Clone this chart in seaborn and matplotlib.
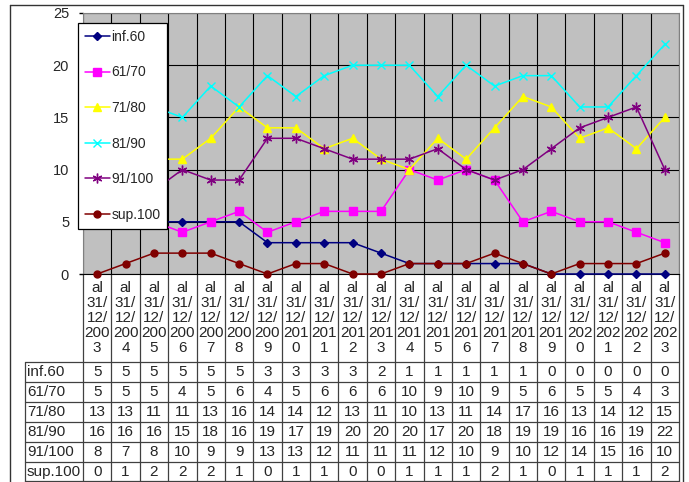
import numpy as np
import matplotlib
matplotlib.use("Agg")
import matplotlib.pyplot as plt
import seaborn as sns

dates = ["al 31/12/2003", "al 31/12/2004", "al 31/12/2005", "al 31/12/2006",
         "al 31/12/2007", "al 31/12/2008", "al 31/12/2009", "al 31/12/2010",
         "al 31/12/2011", "al 31/12/2012", "al 31/12/2013", "al 31/12/2014",
         "al 31/12/2015", "al 31/12/2016", "al 31/12/2017", "al 31/12/2018",
         "al 31/12/2019", "al 31/12/2020", "al 31/12/2021", "al 31/12/2022",
         "al 31/12/2023"]
series_names = ["inf.60", "61/70", "71/80", "81/90", "91/100", "sup.100"]
inf60 = [5, 5, 5, 5, 5, 5, 3, 3, 3, 3, 2, 1, 1, 1, 1, 1, 0, 0, 0, 0, 0]
r61_70 = [5, 5, 5, 4, 5, 6, 4, 5, 6, 6, 6, 10, 9, 10, 9, 5, 6, 5, 5, 4, 3]
r71_80 = [13, 13, 11, 11, 13, 16, 14, 14, 12, 13, 11, 10, 13, 11, 14, 17, 16, 13, 14, 12, 15]
r81_90 = [16, 16, 16, 15, 18, 16, 19, 17, 19, 20, 20, 20, 17, 20, 18, 19, 19, 16, 16, 19, 22]
r91_100 = [8, 7, 8, 10, 9, 9, 13, 13, 12, 11, 11, 11, 12, 10, 9, 10, 12, 14, 15, 16, 10]
sup100 = [0, 1, 2, 2, 2, 1, 0, 1, 1, 0, 0, 1, 1, 1, 2, 1, 0, 1, 1, 1, 2]

all_series = [inf60, r61_70, r71_80, r81_90, r91_100, sup100]
colors = ["#000080", "#FF00FF", "#FFFF00", "#00FFFF", "#800080", "#800000"]
markers = ["D", "s", "^", "x", (6, 2, 0), "o"]
msizes = [4, 5.5, 6, 6, 7, 5]

sns.set_style("white")
plt.rcParams["font.family"] = ["Liberation Sans", "DejaVu Sans"]

W, H = 689, 482
fig = plt.figure(figsize=(W / 100, H / 100), dpi=100)

# plot area in pixels
left, right, top, bottom = 83, 679, 13, 274
ax = fig.add_axes([left / W, (H - bottom) / H, (right - left) / W, (bottom - top) / H])
ax.set_facecolor("#C0C0C0")

x = np.arange(len(dates))
for name, vals, c, m, ms in zip(series_names, all_series, colors, markers, msizes):
    sns.lineplot(x=x, y=vals, ax=ax, color=c, marker=m, markersize=ms,
                 markeredgecolor=c, markeredgewidth=1, linewidth=1.1,
                 label=name, clip_on=False, zorder=3)

ax.set_xlim(-0.5, len(dates) - 0.5)
ax.set_ylim(0, 25)
ax.set_yticks([0, 5, 10, 15, 20, 25])
ax.set_xticks(np.arange(-0.5, len(dates), 1))
ax.set_xticklabels([])
ax.tick_params(axis="x", length=0)
ax.tick_params(axis="y", length=3, width=1, color="black", pad=7, labelsize=10.5, left=True)
ax.grid(True, color="black", linewidth=0.8)
ax.set_axisbelow(True)
for s in ["top", "right", "left"]:
    ax.spines[s].set_color("#808080")
ax.spines["bottom"].set_color("black")
ax.set_xlabel("")
ax.set_ylabel("")

leg = ax.legend(loc="upper left", bbox_to_anchor=(78 / W, 1 - 23 / H),
                bbox_transform=fig.transFigure, frameon=True, fancybox=False,
                framealpha=1, fontsize=10, labelspacing=1.55, handlelength=1.8,
                handletextpad=0.1, borderpad=0.5, borderaxespad=0)
leg.get_frame().set_edgecolor("black")
leg.get_frame().set_facecolor("white")
leg.get_frame().set_linewidth(0.9)
leg.set_zorder(10)

# data table drawn in pixel coordinates
tab = fig.add_axes([0, 0, 1, 1], zorder=-1)
tab.set_xlim(0, W)
tab.set_ylim(H, 0)
tab.axis("off")

n = len(dates)
cw = (right - left) / n
row_top, row_h, lab_left = 362, 20, 25
for j in range(n + 1):
    tab.plot([left + j * cw] * 2, [bottom, H], color="#404040", lw=0.9)
tab.plot([lab_left, lab_left], [row_top, H], color="#404040", lw=0.9)
for k in range(len(series_names) + 1):
    yy = min(row_top + k * row_h, H - 1)
    tab.plot([lab_left, right], [yy, yy], color="#404040", lw=0.9)

for j, d in enumerate(dates):
    a, b = d.split(" ")
    yr = b.split("/")[2]
    lab = f"{a}\n31/\n12/\n{yr[:3]}\n{yr[3:]}"
    tab.text(left + (j + 0.5) * cw, 318, lab, ha="center", va="center",
             fontsize=11, linespacing=1.08)

for k, (name, vals) in enumerate(zip(series_names, all_series)):
    yc = row_top + (k + 0.5) * row_h
    tab.text(lab_left + 2, yc, name, ha="left", va="center", fontsize=11)
    for j, v in enumerate(vals):
        tab.text(left + (j + 0.5) * cw, yc, str(v), ha="center", va="center", fontsize=11)

# chart border
tab.plot([10, 10], [5, H], color="#333333", lw=1)
tab.plot([10, 683], [5, 5], color="#333333", lw=1)
tab.plot([683, 683], [5, H], color="#333333", lw=1)

fig.savefig("out.png", dpi=100)
